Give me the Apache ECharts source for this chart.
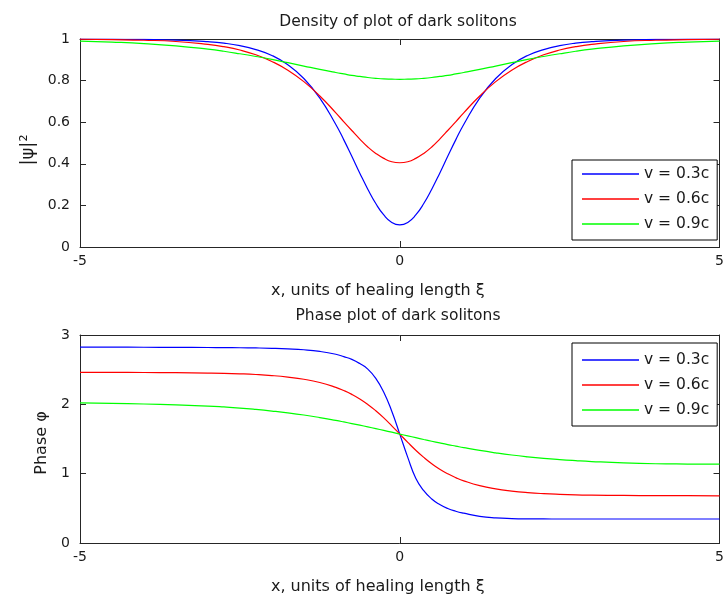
<!DOCTYPE html>
<html>
<head>
<meta charset="utf-8">
<script src="https://cdn.jsdelivr.net/npm/echarts@6/dist/echarts.min.js"></script>
<style>
html,body{margin:0;padding:0;background:#fff;}
#chart{width:727px;height:600px;}
</style>
</head>
<body>
<div id="chart"></div>
<script>
const xs = [-5,-4.5,-4,-3.5,-3,-2.75,-2.5,-2.25,-2,-1.75,-1.5,-1.25,-1,-0.875,-0.75,-0.625,-0.5,-0.375,-0.25,-0.125,0,0.125,0.25,0.375,0.5,0.625,0.75,0.875,1,1.25,1.5,1.75,2,2.25,2.5,2.75,3,3.5,4,4.5,5];
const seriesNames = ['v = 0.3c','v = 0.6c','v = 0.9c'];
const densityV03 = [1.0,0.999,0.998,0.995,0.987,0.980,0.968,0.949,0.921,0.876,0.810,0.716,0.589,0.515,0.436,0.355,0.278,0.209,0.154,0.118,0.106,0.118,0.154,0.209,0.278,0.355,0.436,0.515,0.589,0.716,0.810,0.876,0.921,0.949,0.968,0.980,0.987,0.995,0.998,0.999,1.0];
const densityV06 = [0.999,0.997,0.994,0.988,0.974,0.963,0.947,0.924,0.892,0.850,0.795,0.726,0.645,0.602,0.560,0.519,0.481,0.450,0.426,0.410,0.405,0.410,0.426,0.450,0.481,0.519,0.560,0.602,0.645,0.726,0.795,0.850,0.892,0.924,0.947,0.963,0.974,0.988,0.994,0.997,0.999];
const densityV09 = [0.990,0.985,0.978,0.967,0.951,0.941,0.929,0.916,0.902,0.886,0.870,0.854,0.839,0.832,0.825,0.820,0.815,0.811,0.808,0.807,0.806,0.807,0.808,0.811,0.815,0.820,0.825,0.832,0.839,0.854,0.870,0.886,0.902,0.916,0.929,0.941,0.951,0.967,0.978,0.985,0.990];
const phaseV03 = [2.824,2.824,2.823,2.822,2.820,2.818,2.816,2.813,2.808,2.800,2.787,2.763,2.722,2.688,2.648,2.588,2.508,2.375,2.175,1.900,1.571,1.235,0.935,0.755,0.635,0.555,0.497,0.458,0.430,0.385,0.362,0.352,0.348,0.347,0.346,0.346,0.346,0.346,0.346,0.346,0.346];
const phaseV06 = [2.461,2.460,2.459,2.456,2.451,2.447,2.440,2.430,2.415,2.393,2.362,2.315,2.245,2.199,2.144,2.078,1.999,1.907,1.804,1.690,1.571,1.452,1.338,1.235,1.143,1.064,0.998,0.943,0.897,0.827,0.780,0.749,0.727,0.712,0.702,0.695,0.691,0.686,0.683,0.682,0.681];
const phaseV09 = [2.020,2.013,2.005,1.992,1.975,1.962,1.946,1.926,1.903,1.877,1.846,1.809,1.768,1.746,1.723,1.699,1.675,1.650,1.624,1.598,1.571,1.545,1.519,1.493,1.468,1.443,1.419,1.397,1.375,1.335,1.300,1.269,1.243,1.221,1.203,1.188,1.175,1.155,1.143,1.139,1.137];
const xTicks = {min:-5, max:5, interval:5};
const densityTicks = {min:0, max:1, interval:0.2};
const phaseTicks = {min:0, max:3, interval:1};

const colors = ['#0000ff','#ff0000','#00ff00'];
const FONT = '"DejaVu Sans", sans-serif';
const TXT = '#1a1a1a';
const AXC = '#262626';

function zip(v){ return xs.map((x,i)=>[x,v[i]]); }

function xAx(gi, pos, show){
  return {
    type:'value', gridIndex:gi, position:pos, min:xTicks.min, max:xTicks.max, interval:xTicks.interval,
    axisLine:{show:true, onZero:false, lineStyle:{color:AXC, width:1}},
    axisTick:{show:true, inside:true, length:6, lineStyle:{color:AXC}},
    axisLabel:{show:show, margin:7, color:TXT, fontFamily:FONT, fontSize:14},
    splitLine:{show:false},
    name: show ? 'x, units of healing length ξ' : '',
    nameLocation:'middle', nameGap:36,
    nameTextStyle:{color:TXT, fontFamily:FONT, fontSize:16, padding:[0,44,0,0]}
  };
}
function yAx(gi, pos, show, t, name, gap, fs, pad){
  return {
    type:'value', gridIndex:gi, position:pos, min:t.min, max:t.max, interval:t.interval,
    axisLine:{show:true, onZero:false, lineStyle:{color:AXC, width:1}},
    axisTick:{show:true, inside:true, length:6, lineStyle:{color:AXC}},
    axisLabel:{show:show, margin:10, color:TXT, fontFamily:FONT, fontSize:14},
    splitLine:{show:false},
    name: show ? name : '',
    nameLocation:'middle', nameGap:gap, nameRotate:90,
    nameTextStyle:{color:TXT, fontFamily:FONT, fontSize:fs || 16, padding:pad || 0}
  };
}
function ser(name, data, xi, yi, c){
  return {type:'line', name:name, data:data, xAxisIndex:xi, yAxisIndex:yi,
    showSymbol:false, symbol:'none', smooth:0.5,
    lineStyle:{color:c, width:1.2}, itemStyle:{color:c}, animation:false};
}
function legend(top, padTop){
  return {
    data:seriesNames, orient:'vertical', left:572, top:top,
    icon:'rect', itemWidth:57, itemHeight:1.5, itemGap:9,
    padding:[padTop,8,8,10],
    borderColor:'#000', borderWidth:1, backgroundColor:'#fff',
    textStyle:{color:TXT, fontFamily:FONT, fontSize:15.5, lineHeight:16},
    selectedMode:false
  };
}

const chart = echarts.init(document.getElementById('chart'), null, {renderer:'canvas'});
chart.setOption({
  backgroundColor:'#fff',
  animation:false,
  title:[
    {text:'Density of plot of dark solitons', left:393, top:9, textAlign:'center',
     textStyle:{color:TXT, fontFamily:FONT, fontSize:15.5, fontWeight:'normal'}},
    {text:'Phase plot of dark solitons', left:393, top:303, textAlign:'center',
     textStyle:{color:TXT, fontFamily:FONT, fontSize:15.5, fontWeight:'normal'}}
  ],
  grid:[
    {left:80, top:39, width:645, height:208},
    {left:80, top:335, width:645, height:208}
  ],
  xAxis:[xAx(0,'bottom',true), xAx(0,'top',false), xAx(1,'bottom',true), xAx(1,'top',false)],
  yAxis:[
    yAx(0,'left',true,densityTicks,'|ψ|²',43,18,[0,14,0,0]), yAx(0,'right',false,densityTicks,'',0),
    yAx(1,'left',true,phaseTicks,'Phase φ',30,16,[0,8,0,0]), yAx(1,'right',false,phaseTicks,'',0)
  ],
  legend:[legend(160,6), legend(343,9)],
  series:[
    ser(seriesNames[0], zip(densityV03), 0, 0, colors[0]),
    ser(seriesNames[1], zip(densityV06), 0, 0, colors[1]),
    ser(seriesNames[2], zip(densityV09), 0, 0, colors[2]),
    ser(seriesNames[0], zip(phaseV03), 2, 2, colors[0]),
    ser(seriesNames[1], zip(phaseV06), 2, 2, colors[1]),
    ser(seriesNames[2], zip(phaseV09), 2, 2, colors[2])
  ]
});
</script>
</body>
</html>
